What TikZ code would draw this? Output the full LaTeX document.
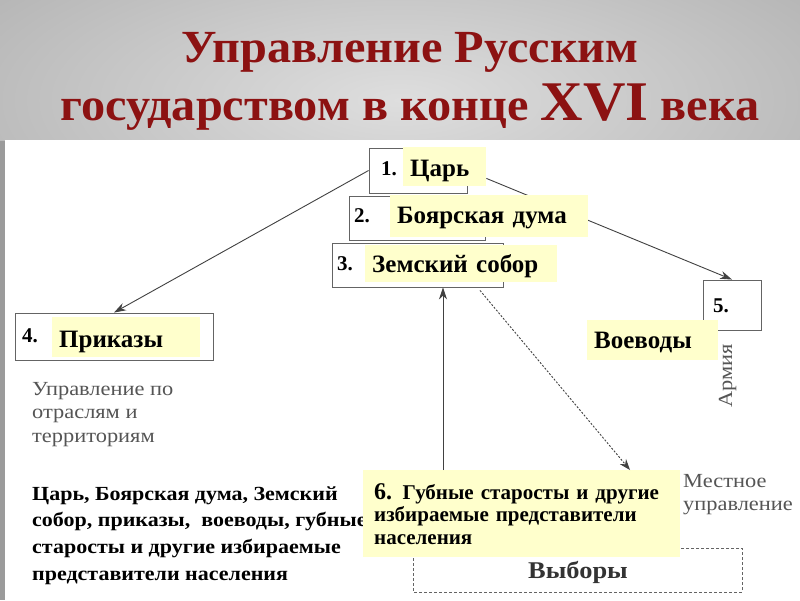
\documentclass[tikz,border=0pt]{standalone}
\usepackage{fontspec}
\setmainfont{Liberation Serif}
\newfontfamily\titlefont[FakeStretch=1.05]{Liberation Serif}
\newfontfamily\widefont[FakeStretch=1.1]{Liberation Serif}
\newfontfamily\greyfont[FakeStretch=1.12]{Liberation Serif}
\usetikzlibrary{arrows.meta}
\definecolor{titlered}{RGB}{140,18,18}
\definecolor{ylw}{RGB}{255,255,204}
\definecolor{boxc}{RGB}{100,100,100}
\definecolor{arrc}{RGB}{65,65,65}
\definecolor{greytxt}{RGB}{85,85,85}
\definecolor{bgin}{RGB}{222,222,222}
\definecolor{bgout}{RGB}{155,155,155}
\begin{document}
\begin{tikzpicture}[x=1pt,y=-1pt,
  wbox/.style={draw=boxc, fill=white, line width=0.9pt, inner sep=0pt},
  ylab/.style={fill=ylw, inner xsep=7pt, inner ysep=0pt, anchor=north west, align=left,
     font=\fontsize{25}{25}\selectfont\bfseries},
  num/.style={anchor=base west, inner sep=0pt, font=\fontsize{21}{21}\selectfont\bfseries},
  arr/.style={draw=arrc, line width=0.9pt, -{Stealth[length=12pt,width=8pt]}},
  darr/.style={draw=arrc, line width=0.9pt, dash pattern=on 2pt off 1.6pt, -{Stealth[length=11pt,width=8pt]}},
  gtxt/.style={text=greytxt, inner sep=0pt, anchor=base west, align=left,
     font=\greyfont\fontsize{20}{23.5}\selectfont},
]
\useasboundingbox (0,0) rectangle (800,600);
\fill[bgout] (0,0) rectangle (800,600);
\begin{scope}
\clip (0,0) rectangle (800,140);
\shade[inner color=bgin, outer color=bgout] (-420,-210) rectangle (1220,410);
\end{scope}
\fill[white] (5,140) rectangle (800,600);

% title
\node[anchor=base, text=titlered, inner sep=0pt, font=\titlefont\fontsize{46}{46}\selectfont\bfseries] (t1) at (410,62) {Управление Русским};
\node[anchor=base, text=titlered, inner sep=0pt, font=\titlefont\fontsize{46}{46}\selectfont\bfseries] (t2) at (410,120) {государством в конце {\fontsize{56}{56}\selectfont XVI} века};

% outline boxes
\node[wbox, minimum width=98pt, minimum height=45pt] (b1) at (418,170.5) {};
\node[wbox, minimum width=136pt, minimum height=44pt] (b2) at (417,218) {};
\node[wbox, minimum width=171pt, minimum height=44pt] (b3) at (417.5,265) {};
\node[wbox, minimum width=198pt, minimum height=47pt] (b4) at (114,336.5) {};
\node[wbox, minimum width=58pt, minimum height=50pt] (b5) at (732,305) {};
\draw[boxc, line width=0.9pt, dash pattern=on 3pt off 2pt] (413,548) rectangle (742,592);
\node[anchor=base, inner sep=0pt, text=black!80, font=\widefont\fontsize{24}{24}\selectfont\bfseries] (vyb) at (578,578) {Выборы};

\coordinate (vx) at (443,0);
\coordinate (dx1) at (480,0);
\coordinate (dx2) at (630,0);

% yellow labels
\node[ylab, text width=69pt, text height=29pt, text depth=10pt] (tsar) at (403,147) {Царь};

% arrows (under labels)
\draw[arr] (b1.west) -- (b4.north);
\draw[arr] ([yshift=8pt]tsar.south east) -- (b5.north);

\node[ylab, text width=184pt, text height=28pt, text depth=14pt] (duma) at (390,195) {Боярская дума};
\node[ylab, text width=178pt, text height=27pt, text depth=10pt] (sobor) at (365,245) {Земский собор};
\node[ylab, text width=134pt, text height=30pt, text depth=10pt] (prik) at (52,317) {Приказы};
\node[ylab, text width=117pt, text height=28pt, text depth=12pt] (voev) at (587,320) {Воеводы};

\node[num] (n1) at (381,175) {1.};
\node[num] (n2) at (354,222) {2.};
\node[num] (n3) at (337,270) {3.};
\node[num] (n4) at (22,342) {4.};
\node[num] (n5) at (713,312) {5.};

% grey captions (anchor = baseline of last line)
\node[gtxt] (g1) at (32,442) {Управление по\\отраслям и\\территориям};
\node[gtxt, font=\greyfont\fontsize{20}{23}\selectfont] (g2) at (683,510) {Местное\\управление};
\node[gtxt, rotate=90] (g3) at (732,408) {Армия};

% summary text (anchor = baseline of last line)
\node[anchor=base west, inner sep=0pt, align=left, font=\widefont\fontsize{20}{26.6}\selectfont\bfseries] (sum) at (32,580)
  {Царь, Боярская дума, Земский\\собор, приказы,\ \ воеводы, губные\\старосты и другие избираемые\\представители населения};

% box 6
\node[fill=ylw, anchor=north west, inner xsep=11pt, inner ysep=0pt, text width=295pt, minimum height=87pt,
  align=left, font=\fontsize{21}{22.5}\selectfont\bfseries] (b6) at (363,470)
  {{\fontsize{24}{22.5}\selectfont 6.} Губные старосты и другие\\избираемые представители\\населения};

\draw[arr] (b6.north -| vx) -- (b3.south -| vx);
\draw[darr] ([yshift=-3pt]b3.south -| dx1) -- (b6.north -| dx2);
\end{tikzpicture}
\end{document}
